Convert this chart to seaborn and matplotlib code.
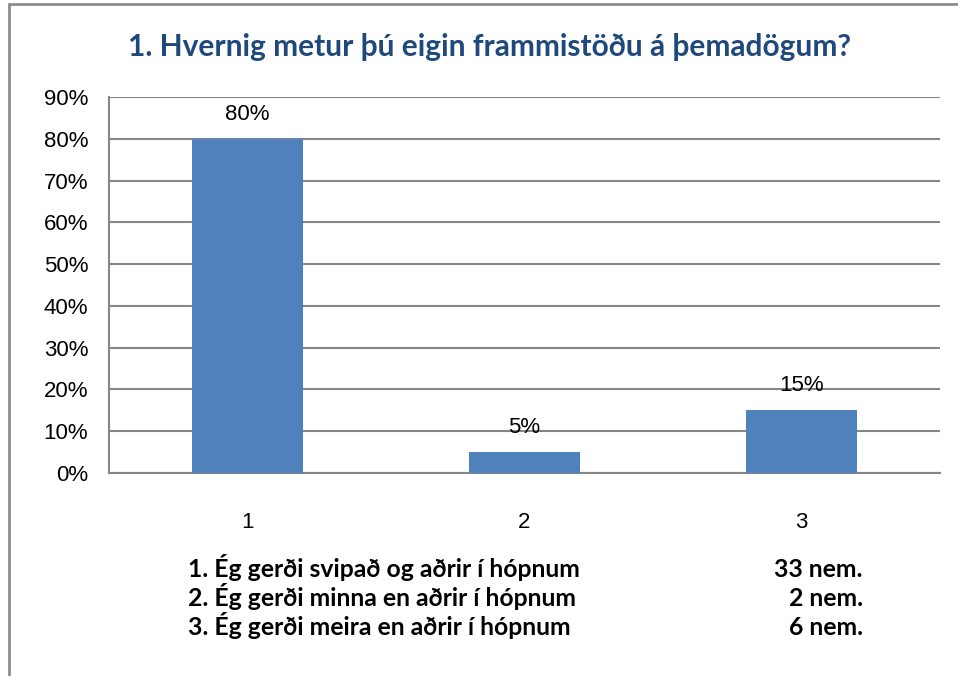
import matplotlib
matplotlib.use("Agg")
import matplotlib.pyplot as plt
import seaborn as sns
import pandas as pd
from matplotlib.lines import Line2D

title = "1. Hvernig metur þú eigin frammistöðu á þemadögum?"
categories = ["1", "2", "3"]
values = [80, 5, 15]
y_ticks = [0, 10, 20, 30, 40, 50, 60, 70, 80, 90]
legend_lines = ["1. Ég gerði svipað og aðrir í hópnum",
                "2. Ég gerði minna en aðrir í hópnum",
                "3. Ég gerði meira en aðrir í hópnum"]
legend_counts = ["33 nem.", "2 nem.", "6 nem."]

df = pd.DataFrame({"cat": categories, "val": values})

sns.set_theme(style="white")
plt.rcParams["font.family"] = ["Liberation Sans", "DejaVu Sans"]

W, H = 958, 676
fig = plt.figure(figsize=(W / 100, H / 100), dpi=100)
fig.patch.set_facecolor("white")

# axes placement (pixels)
left, right, top, bottom = 109, 940, 97, 473
ax = fig.add_axes([left / W, 1 - bottom / H, (right - left) / W, (bottom - top) / H])

sns.barplot(data=df, x="cat", y="val", color="#4F81BD", width=0.4,
            saturation=1, linewidth=0, edgecolor="none", ax=ax, zorder=3)

grid_c = "#868686"
ax.set_ylim(0, 90)
ax.set_xlim(-0.5, 2.5)
ax.set_yticks(y_ticks)
ax.set_yticklabels([f"{v}%" for v in y_ticks], fontsize=16, color="black")
ax.yaxis.grid(True, color=grid_c, linewidth=1.5, zorder=0)
ax.set_axisbelow(True)
ax.set_xlabel("")
ax.set_ylabel("")

# x labels at centers, tick marks at boundaries
ax.set_xticks(range(len(categories)))
ax.set_xticklabels(categories, fontsize=16, color="black")
ax.tick_params(axis="x", which="major", length=0, pad=28)
ax.set_xticks([-0.5, 0.5, 1.5, 2.5], minor=True)
ax.tick_params(axis="x", which="minor", length=7, width=1.5, color=grid_c, direction="out")
ax.tick_params(axis="y", which="major", length=7, width=1.5, color=grid_c, direction="out", pad=8)

for s in ["top", "right"]:
    ax.spines[s].set_visible(False)
for s in ["left", "bottom"]:
    ax.spines[s].set_color(grid_c)
    ax.spines[s].set_linewidth(1.5)

for c in ax.containers:
    ax.bar_label(c, labels=[f"{v:g}%" for v in values], padding=10, fontsize=16, color="black")

# title
fig.text(489 / W, 1 - 47 / H, title, ha="center", va="center", fontsize=21.5,
         fontweight="bold", color="#1F497D", family=["Lato", "DejaVu Sans"])

# bottom legend text
ys = [577, 606, 635]
for t, n, y in zip(legend_lines, legend_counts, ys):
    fig.text(188 / W, 1 - y / H, t, ha="left", va="baseline", fontsize=17.8,
             fontweight="bold", color="black", family=["Lato", "DejaVu Sans"])
    fig.text(863 / W, 1 - y / H, n, ha="right", va="baseline", fontsize=17.8,
             fontweight="bold", color="black", family=["Lato", "DejaVu Sans"])

# chart frame (cut off on right and bottom)
fig.add_artist(Line2D([9 / W, 1], [1 - 4 / H, 1 - 4 / H], color="#8C8C8C", linewidth=2,
                      transform=fig.transFigure))
fig.add_artist(Line2D([9 / W, 9 / W], [0, 1 - 4 / H], color="#8C8C8C", linewidth=2,
                      transform=fig.transFigure))

fig.savefig("out.png", dpi=100, facecolor="white")
